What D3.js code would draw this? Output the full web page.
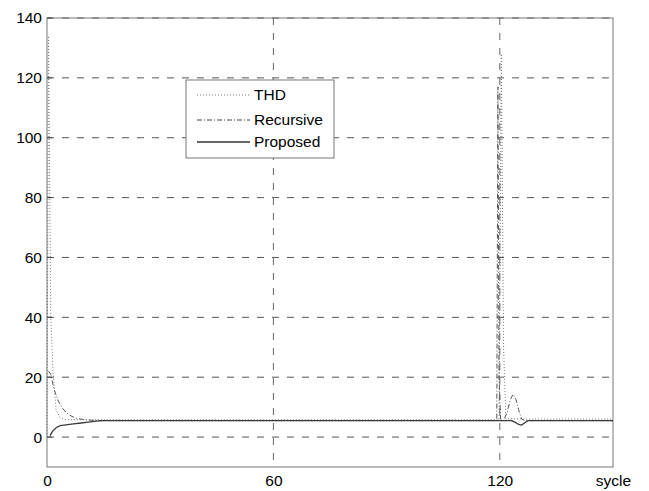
<!DOCTYPE html>
<html>
<head>
<meta charset="utf-8">
<script src="https://cdn.jsdelivr.net/npm/d3@7"></script>
<style>
  html, body { margin: 0; padding: 0; background: #fff; }
  svg { display: block; font-family: "Liberation Sans", Arial, sans-serif; }
</style>
</head>
<body>
<svg id="chart" width="649" height="491"></svg>
<script>
// Axis settings
const xDomain = [0, 150];
const yDomain = [-10, 140];
const yTicks = [0, 20, 40, 60, 80, 100, 120, 140];
const xTicks = [0, 60, 120, 150];
const xTickLabels = ["0", "60", "120", "sycle"];
const xGrid = [60, 120];

// THD estimate per cycle
const thdX = [0, 0.4, 1.0, 1.6, 2.4, 3.5, 5, 119.8, 120.4, 121.0, 121.6, 127, 150];
const thdY = [0, 134, 40, 22, 9, 6.5, 5.8, 5.8, 128, 30, 6.2, 6.0, 6.0];

// Recursive estimate
const recX = [0.4, 1, 1.5, 2, 3, 4, 5, 6, 7, 8, 10, 12, 15, 119.2, 119.5, 119.8, 120.2, 121, 122, 122.8, 123.5, 124.3, 125, 125.8, 126.6, 150];
const recY = [22, 21, 18, 15.5, 12, 9.8, 8.3, 7.3, 6.7, 6.2, 5.8, 5.6, 5.5, 5.5, 117, 20, 6, 5.5, 8.5, 12.5, 14.3, 12.5, 9, 6, 5.5, 5.5];

// Proposed estimate
const proX = [0.8, 1.5, 2.5, 3.5, 5, 7, 9, 11, 13, 15, 122, 123, 124, 125, 125.8, 126.6, 127.5, 150];
const proY = [0.5, 2.0, 3.2, 3.8, 4.1, 4.4, 4.7, 5.0, 5.3, 5.5, 5.5, 5.6, 5.0, 4.2, 4.0, 4.8, 5.5, 5.5];

const seriesNames = ["THD", "Recursive", "Proposed"];

const svg = d3.select("#chart");
const plotLeft = 47, plotRight = 613, plotTop = 18, plotBottom = 467;

const x = d3.scaleLinear().domain(xDomain).range([plotLeft, plotRight]);
const y = d3.scaleLinear().domain(yDomain).range([plotBottom, plotTop]);

// Horizontal grid
svg.append("g")
  .selectAll("line")
  .data(yTicks)
  .join("line")
  .attr("x1", plotLeft).attr("x2", plotRight)
  .attr("y1", d => y(d)).attr("y2", d => y(d))
  .attr("stroke", "#555")
  .attr("stroke-width", 1)
  .attr("stroke-dasharray", "7,8");

// Vertical grid
svg.append("g")
  .selectAll("line")
  .data(xGrid)
  .join("line")
  .attr("x1", d => x(d)).attr("x2", d => x(d))
  .attr("y1", plotTop).attr("y2", plotBottom)
  .attr("stroke", "#666")
  .attr("stroke-width", 1)
  .attr("stroke-dasharray", "7,8");

// Plot frame
svg.append("rect")
  .attr("x", plotLeft).attr("y", plotTop)
  .attr("width", plotRight - plotLeft).attr("height", plotBottom - plotTop)
  .attr("fill", "none")
  .attr("stroke", "#777")
  .attr("stroke-width", 1);

// Y axis labels
const yAxis = d3.axisLeft(y).tickValues(yTicks).tickSize(0).tickPadding(5);
const gy = svg.append("g").attr("transform", `translate(${plotLeft},0)`).call(yAxis);
gy.select(".domain").remove();
gy.selectAll("text")
  .attr("fill", "#000")
  .style("font-size", "15.5px")
  .style("font-family", "'Liberation Sans', Arial, sans-serif");

// Small inward tick marks
svg.append("g").selectAll("line").data(yTicks).join("line")
  .attr("x1", plotLeft).attr("x2", plotLeft + 5)
  .attr("y1", d => y(d)).attr("y2", d => y(d))
  .attr("stroke", "#444");

// X axis labels
const xAxis = d3.axisBottom(x).tickValues(xTicks).tickSize(0).tickPadding(8)
  .tickFormat((d, i) => xTickLabels[i]);
const gx = svg.append("g").attr("transform", `translate(0,${plotBottom})`).call(xAxis);
gx.select(".domain").remove();
gx.selectAll("text")
  .attr("fill", "#000")
  .style("font-size", "15.5px")
  .style("font-family", "'Liberation Sans', Arial, sans-serif");

// Series lines
const line = d3.line().x(d => x(d[0])).y(d => y(d[1]));
const zip = (a, b) => a.map((v, i) => [v, b[i]]);

svg.append("path")
  .datum(zip(recX, recY))
  .attr("d", line)
  .attr("fill", "none")
  .attr("stroke", "#555")
  .attr("stroke-width", 1)
  .attr("stroke-dasharray", "5,2,1,2");

svg.append("path")
  .datum(zip(thdX, thdY))
  .attr("d", line)
  .attr("fill", "none")
  .attr("stroke", "#777")
  .attr("stroke-width", 1)
  .attr("stroke-dasharray", "1,2");

svg.append("path")
  .datum(zip(proX, proY))
  .attr("d", line)
  .attr("fill", "none")
  .attr("stroke", "#3a3a3a")
  .attr("stroke-width", 1.3);

// Legend
const lg = svg.append("g");
lg.append("rect")
  .attr("x", 186).attr("y", 80)
  .attr("width", 148).attr("height", 78)
  .attr("fill", "#fff")
  .attr("stroke", "#777")
  .attr("stroke-width", 1);

const legendStyles = [
  { dash: "1,2", color: "#777", w: 1 },
  { dash: "5,2,1,2", color: "#444", w: 1 },
  { dash: null, color: "#333", w: 1.3 }
];
const legendY = [95, 120, 142];
seriesNames.forEach((name, i) => {
  lg.append("line")
    .attr("x1", 197).attr("x2", 250)
    .attr("y1", legendY[i]).attr("y2", legendY[i])
    .attr("stroke", legendStyles[i].color)
    .attr("stroke-width", legendStyles[i].w)
    .attr("stroke-dasharray", legendStyles[i].dash);
  lg.append("text")
    .attr("x", 254).attr("y", legendY[i])
    .attr("dy", "0.35em")
    .style("font-size", "15.5px")
    .attr("fill", "#000")
    .text(name);
});
</script>
</body>
</html>
